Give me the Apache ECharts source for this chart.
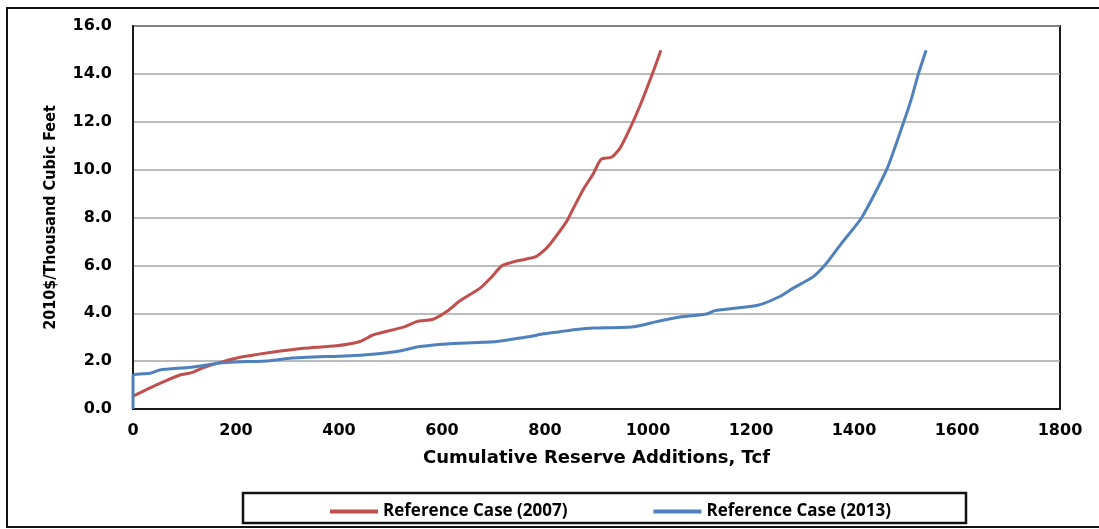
<!DOCTYPE html>
<html>
<head>
<meta charset="utf-8">
<script src="https://cdn.jsdelivr.net/npm/echarts@6/dist/echarts.min.js"></script>
<style>
html,body{margin:0;padding:0;background:#fff;}
#chart{width:1099px;height:529px;}
</style>
</head>
<body>
<div id="chart"></div>
<script>
// Reference Case (2007): cumulative reserve additions (Tcf) and cost (2010$/Mcf)
var x2007 = [0,33,52,91,114,133,175,208,266,331,395,441,467,525,551,583,609,635,674,697,716,748,781,803,816,842,855,874,894,904,910,930,946,965,985,1010,1025];
var y2007 = [0.54,0.88,1.07,1.42,1.52,1.70,1.98,2.16,2.36,2.54,2.64,2.82,3.10,3.42,3.65,3.75,4.07,4.52,5.05,5.53,5.98,6.20,6.35,6.72,7.06,7.84,8.38,9.16,9.84,10.28,10.45,10.53,10.91,11.72,12.70,14.09,14.99];
// Reference Case (2013)
var x2013 = [0,0,33,52,111,156,188,266,305,447,512,557,609,706,771,797,829,865,894,972,1017,1062,1114,1130,1211,1256,1282,1321,1347,1375,1415,1464,1497,1512,1525,1540];
var y2013 = [0,1.38,1.49,1.63,1.74,1.88,1.95,2.02,2.12,2.26,2.40,2.61,2.72,2.82,3.03,3.14,3.23,3.33,3.38,3.44,3.65,3.84,3.97,4.11,4.32,4.70,5.05,5.53,6.10,6.90,8.00,10.03,12.02,13.00,14.00,14.99];
var seriesNames = ['Reference Case (2007)','Reference Case (2013)'];
var xTitle = 'Cumulative Reserve Additions, Tcf';
var yTitle = '2010$/Thousand Cubic Feet';

function zip(a,b){var r=[];for(var i=0;i<a.length;i++){r.push([a[i],b[i]]);}return r;}

var chart = echarts.init(document.getElementById('chart'));
chart.setOption({
  animation:false,
  backgroundColor:'#fff',
  grid:{left:133,right:39,top:26,bottom:120,show:true,borderColor:'#1a1a1a',borderWidth:2,backgroundColor:'transparent'},
  xAxis:{
    type:'value',min:0,max:1800,interval:200,
    name:xTitle,nameLocation:'middle',nameGap:40,
    nameTextStyle:{fontFamily:'DejaVu Sans',fontWeight:'bold',fontSize:18,color:'#000'},
    axisLine:{show:true,lineStyle:{color:'#1a1a1a',width:2}},
    axisTick:{show:false},
    splitLine:{show:false},
    axisLabel:{fontFamily:'DejaVu Sans',fontWeight:'bold',fontSize:16,color:'#000',margin:14,
      formatter:function(v){return String(v);}}
  },
  yAxis:{
    type:'value',min:0,max:16,interval:2,
    name:yTitle,nameLocation:'middle',nameGap:74,nameRotate:90,
    nameTextStyle:{fontFamily:'DejaVu Sans Condensed',fontWeight:'bold',fontSize:16,color:'#000'},
    axisLine:{show:true,lineStyle:{color:'#1a1a1a',width:2}},
    axisTick:{show:false},
    splitLine:{show:true,lineStyle:{color:'#a6a6a6',width:1.5}},
    axisLabel:{fontFamily:'DejaVu Sans',fontWeight:'bold',fontSize:16,color:'#000',margin:21,
      formatter:function(v){return v.toFixed(1);}}
  },
  legend:{
    left:325,top:498,itemGap:86,itemWidth:48,itemHeight:4,icon:'rect',
    textStyle:{fontFamily:'Open Sans',fontWeight:'bold',fontSize:17,color:'#000'},
    data:seriesNames
  },
  graphic:[
    {type:'rect',shape:{x:7,y:8,width:1110,height:519},style:{fill:'none',stroke:'#111',lineWidth:2},silent:true,z:-1},
    {type:'rect',shape:{x:243,y:493,width:723,height:30},style:{fill:'none',stroke:'#111',lineWidth:2.5},silent:true}
  ],
  series:[
    {name:seriesNames[0],type:'line',data:zip(x2007,y2007),showSymbol:false,smooth:0.2,
     lineStyle:{color:'#C0504D',width:3},itemStyle:{color:'#C0504D'}},
    {name:seriesNames[1],type:'line',data:zip(x2013,y2013),showSymbol:false,smooth:0.2,
     lineStyle:{color:'#4F81BD',width:3},itemStyle:{color:'#4F81BD'}}
  ]
});
</script>
</body>
</html>
